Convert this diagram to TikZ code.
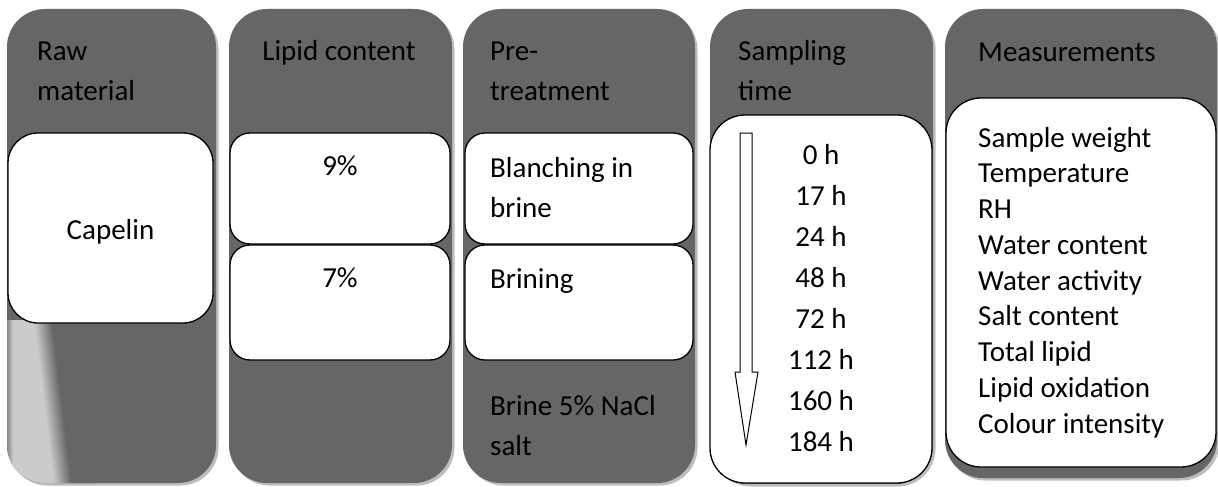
\documentclass[tikz,border=0pt]{standalone}
\usepackage{fontspec}
\setmainfont{Carlito}
\usetikzlibrary{shadows}
\definecolor{panelgray}{HTML}{666666}
\definecolor{shadowgray}{HTML}{BDBDBD}
\definecolor{streak}{HTML}{CBCBCB}
\definecolor{streakedge}{HTML}{858585}
\begin{document}
\begin{tikzpicture}[x=1pt,y=-1pt,
  panel/.style={fill=panelgray, rounded corners=38pt, inner sep=0pt, outer sep=0pt,
    drop shadow={shadow xshift=2.5pt, shadow yshift=-2.5pt, fill=shadowgray, opacity=1}},
  wbox/.style={draw=black, line width=1.3pt, fill=white, inner sep=0pt, outer sep=0pt},
  txt/.style={inner sep=0pt, font=\fontsize{29}{34}\selectfont, text=black},
  lt/.style={txt, anchor=base west},
  ct/.style={txt, anchor=base}]
\useasboundingbox (0,0) rectangle (1218,487);
\fill[white] (0,0) rectangle (1218,487);

% panels
\node[panel, minimum width=209pt, minimum height=474pt] (p1) at (111.5,246) {};
\node[panel, minimum width=223pt, minimum height=474pt] (p2) at (340.5,246) {};
\node[panel, minimum width=232pt, minimum height=474pt] (p3) at (579,246) {};
\node[panel, minimum width=223pt, minimum height=475pt] (p4) at (821.5,246.5) {};
\node[panel, minimum width=272pt, minimum height=469pt] (p5) at (1081,243.5) {};

% light streak on panel 1
\begin{scope}
  \clip[rounded corners=38pt] (7,9) rectangle (216,483);
  \fill[streak] (11,320) -- (34,320) -- (54,483) -- (11,483) -- cycle;
  \foreach \k in {0,...,18}{
    \pgfmathsetmacro\c{100*\k/18}
    \fill[panelgray!\c!streak] (33.5+\k,320) -- (35+\k,320) -- (55+\k,483) -- (53.5+\k,483) -- cycle;
  }
  \fill[panelgray] (52.5,320) -- (80,320) -- (100,483) -- (72.5,483) -- cycle;
  \foreach \k in {0,...,6}{
    \pgfmathsetmacro\c{100*\k/6}
    \fill[streak!\c!streakedge] (7+\k,320) rectangle (8.2+\k,483);
  }
\end{scope}

% white boxes
\node[wbox, rounded corners=30pt, minimum width=205pt, minimum height=190pt] (b1) at (110.5,228) {};
\node[wbox, rounded corners=20pt, minimum width=220pt, minimum height=111pt] (b2a) at (340,188.5) {};
\node[wbox, rounded corners=20pt, minimum width=220pt, minimum height=115pt] (b2b) at (340,302.5) {};
\node[wbox, rounded corners=20pt, minimum width=228pt, minimum height=111pt] (b3a) at (579,188.5) {};
\node[wbox, rounded corners=20pt, minimum width=228pt, minimum height=115pt] (b3b) at (579,302.5) {};
\node[wbox, rounded corners=35pt, minimum width=222pt, minimum height=368pt] (b4) at (821,299) {};
\node[wbox, rounded corners=35pt, minimum width=270pt, minimum height=369pt] (b5) at (1081,282.5) {};

% headings
\node[lt] (h1a) at (37,60) {Raw};
\node[lt] (h1b) at (37,100) {material};
\node[ct] (h2) at (339,60) {Lipid content};
\node[lt] (h3a) at (490,61) {Pre-};
\node[lt] (h3b) at (490,100) {treatment};
\node[lt] (h4a) at (738,61) {Sampling};
\node[lt] (h4b) at (738,100) {time};
\node[lt] (h5) at (978,62) {Measurements};

% panel 1
\node[ct] (t1) at (110.5,239) {Capelin};
% panel 2
\node[ct] (t2a) at (340,175) {9\%};
\node[ct] (t2b) at (340,287) {7\%};
% panel 3
\node[lt] (t3a) at (490,177) {Blanching in};
\node[lt] (t3b) at (490,217) {brine};
\node[lt] (t3c) at (490,288) {Brining};
\node[lt] (t3d) at (490,415) {Brine 5\% NaCl};
\node[lt] (t3e) at (490,455) {salt};

% panel 4
\draw[line width=1pt, fill=white] (740,133) -- (752,133) -- (752,372) -- (758,372)
  -- (746,445) -- (735,372) -- (740,372) -- cycle;
\foreach \t [count=\i from 0] in {0 h,17 h,24 h,48 h,72 h,112 h,160 h,184 h}
  \node[ct] (tm\i) at (821,164+41*\i) {\t};

% panel 5
\foreach \m [count=\i from 0] in {Sample weight,Temperature,RH,Water content,Water activity,Salt content,Total lipid,Lipid oxidation,Colour intensity}
  \node[lt] (ms\i) at (978,147+35.75*\i) {\m};
\end{tikzpicture}
\end{document}
